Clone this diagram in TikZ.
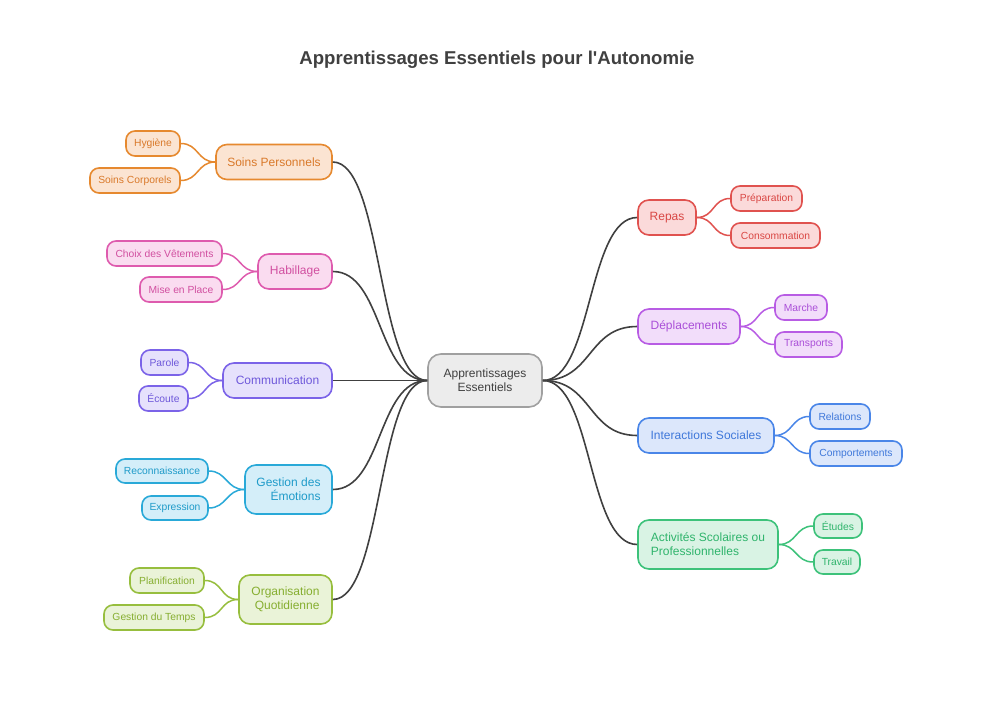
\documentclass[tikz,border=0pt]{standalone}
\usepackage{fontspec}
\setmainfont{Liberation Sans}
\definecolor{orB}{HTML}{E6892F}\definecolor{orF}{HTML}{FBE4D2}\definecolor{orT}{HTML}{D9792A}
\definecolor{piB}{HTML}{DE5BAE}\definecolor{piF}{HTML}{FADCF0}\definecolor{piT}{HTML}{D14FA0}
\definecolor{puB}{HTML}{7B63E8}\definecolor{puF}{HTML}{E6E1FC}\definecolor{puT}{HTML}{6E58DA}
\definecolor{cyB}{HTML}{29A9D8}\definecolor{cyF}{HTML}{D4EEF9}\definecolor{cyT}{HTML}{1F9BC9}
\definecolor{lgB}{HTML}{97BE3E}\definecolor{lgF}{HTML}{EAF3D8}\definecolor{lgT}{HTML}{86AE30}
\definecolor{reB}{HTML}{E0524F}\definecolor{reF}{HTML}{FBDADA}\definecolor{reT}{HTML}{D94744}
\definecolor{viB}{HTML}{B85CE4}\definecolor{viF}{HTML}{F2DDFA}\definecolor{viT}{HTML}{AA4FD8}
\definecolor{blB}{HTML}{4A86E8}\definecolor{blF}{HTML}{DCE7FB}\definecolor{blT}{HTML}{3F78DA}
\definecolor{grB}{HTML}{3DC27A}\definecolor{grF}{HTML}{D9F3E4}\definecolor{grT}{HTML}{2FB46C}
\definecolor{ceB}{HTML}{A0A0A0}\definecolor{ceF}{HTML}{ECECEC}
\definecolor{dark}{HTML}{404040}
\tikzset{
  box/.style n args={3}{draw=#1, fill=#2, text=#3, line width=1.6pt, rounded corners=11pt, inner sep=0pt},
  branch/.style n args={3}{box={#1}{#2}{#3}, font=\fontsize{12}{14}\selectfont},
  leaf/.style n args={3}{box={#1}{#2}{#3}, rounded corners=9pt, font=\fontsize{10.3}{12}\selectfont},
  conn/.style={draw=dark, line width=1.6pt},
  lconn/.style={line width=1.5pt},
}
\begin{document}
\begin{tikzpicture}[x=1pt,y=-1pt]
\useasboundingbox[fill=white] (0,0) rectangle (995,714);
\node[font=\bfseries\fontsize{18.6}{20}\selectfont, text=dark] (title) at (497,60) {Apprentissages Essentiels pour l\textquotesingle Autonomie};
% center
\node[box={ceB}{ceF}{dark}, rounded corners=13pt, minimum width=114pt, minimum height=53pt, align=center, font=\fontsize{12}{14}\selectfont] (c) at (485,380.5) {Apprentissages\\Essentiels};
% left branches
\node[branch={orB}{orF}{orT}, minimum width=116pt, minimum height=35pt] (sp) at (274,162) {Soins Personnels};
\node[branch={piB}{piF}{piT}, minimum width=74pt, minimum height=35pt] (ha) at (295,271.5) {Habillage};
\node[branch={puB}{puF}{puT}, minimum width=109pt, minimum height=35pt] (co) at (277.5,380.5) {Communication};
\node[branch={cyB}{cyF}{cyT}, minimum width=87pt, minimum height=49pt, align=right] (ge) at (288.5,489.5) {Gestion des\\Émotions};
\node[branch={lgB}{lgF}{lgT}, minimum width=93pt, minimum height=49pt, align=right] (oq) at (285.5,599.5) {Organisation\\Quotidienne};
% left leaves
\node[leaf={orB}{orF}{orT}, minimum width=54pt, minimum height=25pt] (hy) at (153,143.5) {Hygiène};
\node[leaf={orB}{orF}{orT}, minimum width=90pt, minimum height=25pt] (sc) at (135,180.5) {Soins Corporels};
\node[leaf={piB}{piF}{piT}, minimum width=115pt, minimum height=25pt] (cv) at (164.5,253.5) {Choix des Vêtements};
\node[leaf={piB}{piF}{piT}, minimum width=82pt, minimum height=25pt] (mp) at (181,289.5) {Mise en Place};
\node[leaf={puB}{puF}{puT}, minimum width=47pt, minimum height=25pt] (pa) at (164.5,362.5) {Parole};
\node[leaf={puB}{puF}{puT}, minimum width=49pt, minimum height=25pt] (ec) at (163.5,398.5) {Écoute};
\node[leaf={cyB}{cyF}{cyT}, minimum width=92pt, minimum height=24pt] (rc) at (162,471) {Reconnaissance};
\node[leaf={cyB}{cyF}{cyT}, minimum width=66pt, minimum height=24pt] (ex) at (175,508) {Expression};
\node[leaf={lgB}{lgF}{lgT}, minimum width=74pt, minimum height=25pt] (pl) at (167,580.5) {Planification};
\node[leaf={lgB}{lgF}{lgT}, minimum width=100pt, minimum height=25pt] (gt) at (154,617.5) {Gestion du Temps};
% right branches
\node[branch={reB}{reF}{reT}, minimum width=58pt, minimum height=35pt] (re) at (667,217.5) {Repas};
\node[branch={viB}{viF}{viT}, minimum width=102pt, minimum height=35pt] (de) at (689,326.5) {Déplacements};
\node[branch={blB}{blF}{blT}, minimum width=136pt, minimum height=35pt] (is) at (706,435.5) {Interactions Sociales};
\node[branch={grB}{grF}{grT}, minimum width=140pt, minimum height=49pt, align=left] (as) at (708,544.5) {Activités Scolaires ou\\Professionnelles};
% right leaves
\node[leaf={reB}{reF}{reT}, minimum width=71pt, minimum height=25pt] (pr) at (766.5,198.5) {Préparation};
\node[leaf={reB}{reF}{reT}, minimum width=89pt, minimum height=25pt] (cs) at (775.5,235.5) {Consommation};
\node[leaf={viB}{viF}{viT}, minimum width=52pt, minimum height=25pt] (ma) at (801,307.5) {Marche};
\node[leaf={viB}{viF}{viT}, minimum width=67pt, minimum height=25pt] (tr) at (808.5,344.5) {Transports};
\node[leaf={blB}{blF}{blT}, minimum width=60pt, minimum height=25pt] (rl) at (840,416.5) {Relations};
\node[leaf={blB}{blF}{blT}, minimum width=92pt, minimum height=25pt] (cp) at (856,453.5) {Comportements};
\node[leaf={grB}{grF}{grT}, minimum width=48pt, minimum height=24pt] (et) at (838,526) {Études};
\node[leaf={grB}{grF}{grT}, minimum width=46pt, minimum height=24pt] (tv) at (837,562) {Travail};
% center connectors
\foreach \b in {sp,ha,co,ge,oq}
  \draw[conn] (c.west) .. controls +(-50,0) and +(50,0) .. (\b.east);
\foreach \b in {re,de,is,as}
  \draw[conn] (c.east) .. controls +(50,0) and +(-50,0) .. (\b.west);
% leaf connectors
\foreach \b/\l/\col in {sp/hy/orB,sp/sc/orB,ha/cv/piB,ha/mp/piB,co/pa/puB,co/ec/puB,ge/rc/cyB,ge/ex/cyB,oq/pl/lgB,oq/gt/lgB}
  \draw[lconn, draw=\col] (\b.west) .. controls +(-18,0) and +(18,0) .. (\l.east);
\foreach \b/\l/\col in {re/pr/reB,re/cs/reB,de/ma/viB,de/tr/viB,is/rl/blB,is/cp/blB,as/et/grB,as/tv/grB}
  \draw[lconn, draw=\col] (\b.east) .. controls +(18,0) and +(-18,0) .. (\l.west);
\end{tikzpicture}
\end{document}
